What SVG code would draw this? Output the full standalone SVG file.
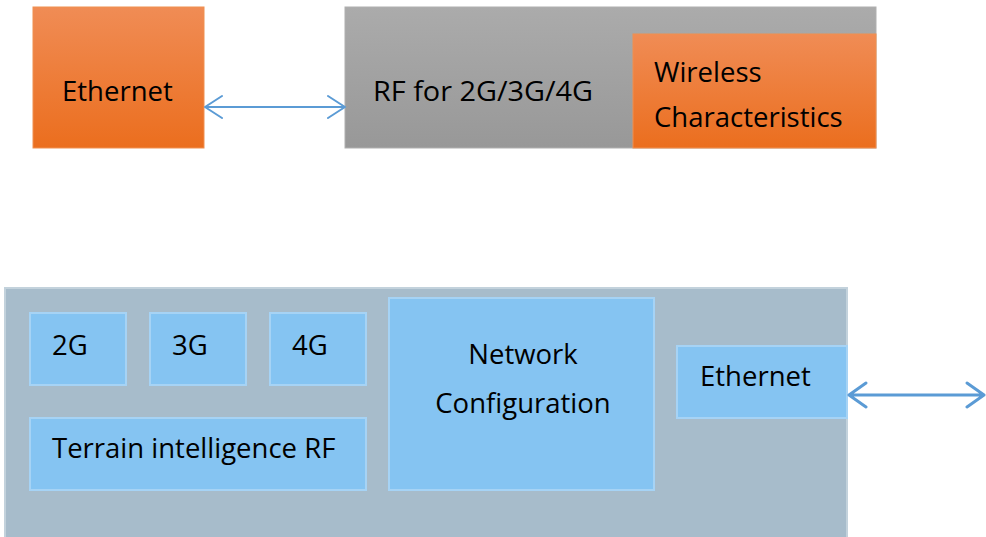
<svg xmlns="http://www.w3.org/2000/svg" width="986" height="537" viewBox="0 0 986 537">
<defs>
<linearGradient id="org" x1="0" y1="0" x2="0" y2="1"><stop offset="0" stop-color="#f08c55"/><stop offset="1" stop-color="#eb6e1e"/></linearGradient>
<linearGradient id="gry" x1="0" y1="0" x2="0" y2="1"><stop offset="0" stop-color="#ababab"/><stop offset="1" stop-color="#989898"/></linearGradient>
<style>
text{font-family:"Open Sans","Noto Sans","Liberation Sans",sans-serif;font-size:27.5px;fill:#000}
.blue{fill:#85c4f2;stroke:#a6d3f5;stroke-width:2}
.conn{stroke:#5b9bd5;fill:none;stroke-linecap:round;stroke-linejoin:round}
</style>
</defs>
<g id="ethernet-top"><rect x="33" y="7" width="171" height="141" fill="url(#org)" stroke="#f09050" stroke-width="1"/><text x="62" y="101">Ethernet</text></g>
<g id="rf-box"><rect x="345" y="7" width="531" height="141" fill="url(#gry)" stroke="#b0b0b0" stroke-width="1"/><text x="373" y="101" textLength="220" lengthAdjust="spacingAndGlyphs">RF for 2G/3G/4G</text></g>
<g id="wireless"><rect x="633" y="34" width="243" height="114" fill="url(#org)" stroke="#f09050" stroke-width="1"/><text x="654" y="82">Wireless</text><text x="654" y="127">Characteristics</text></g>
<g id="container"><rect x="5" y="288" width="842" height="252" fill="#a7bccb" stroke="#c3d2dc" stroke-width="2"/></g>
<g id="n2g"><rect class="blue" x="30" y="313" width="96" height="72"/><text x="52" y="355">2G</text></g>
<g id="n3g"><rect class="blue" x="150" y="313" width="96" height="72"/><text x="172" y="355">3G</text></g>
<g id="n4g"><rect class="blue" x="270" y="313" width="96" height="72"/><text x="292" y="355">4G</text></g>
<g id="terrain"><rect class="blue" x="30" y="418" width="336" height="72"/><text x="52" y="458">Terrain intelligence RF</text></g>
<g id="netconf"><rect class="blue" x="389" y="298" width="265" height="192"/><text x="523" y="364" text-anchor="middle">Network</text><text x="523" y="413" text-anchor="middle">Configuration</text></g>
<g id="ethernet-bottom"><rect class="blue" x="677" y="346" width="170" height="72"/><text x="700" y="386">Ethernet</text></g>
<g id="connectors">
<path class="conn" stroke-width="2" d="M205 107H345M222 96L205 107L222 118M328 96L345 107L328 118"/>
<path class="conn" stroke-width="3" d="M849 395H984M866 383L849 395L866 407M967 383L984 395L967 407"/>
</g>
</svg>
